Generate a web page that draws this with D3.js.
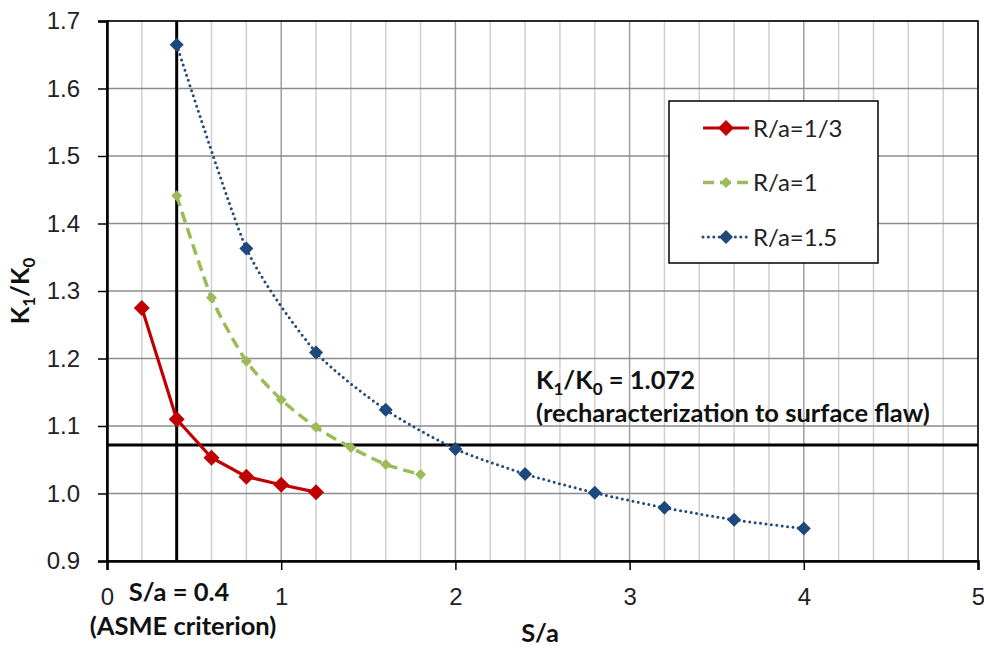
<!DOCTYPE html>
<html>
<head>
<meta charset="utf-8">
<script src="https://cdn.jsdelivr.net/npm/d3@7"></script>
<style>
  body { margin: 0; background: #fff; }
  svg { font-family: Lato, "Open Sans", sans-serif; }
</style>
</head>
<body>
<div id="svgContainer"></div>
<script>
// series data
const xRedThird = [0.2, 0.4, 0.6, 0.8, 1.0, 1.2];
const yRedThird = [1.275, 1.11, 1.053, 1.025, 1.013, 1.002];

const xGreenOne = [0.4, 0.6, 0.8, 1.0, 1.2, 1.4, 1.6, 1.8];
const yGreenOne = [1.441, 1.29, 1.196, 1.139, 1.098, 1.068, 1.043, 1.028];

const xBlueOneHalf = [0.4, 0.8, 1.2, 1.6, 2.0, 2.4, 2.8, 3.2, 3.6, 4.0];
const yBlueOneHalf = [1.665, 1.363, 1.209, 1.124, 1.066, 1.029, 1.001, 0.979, 0.961, 0.948];

const seriesNames = ["R/a=1/3", "R/a=1", "R/a=1.5"];
const xTicks = [0, 1, 2, 3, 4, 5];
const yTicks = [0.9, 1.0, 1.1, 1.2, 1.3, 1.4, 1.5, 1.6, 1.7];
const asmeS = 0.4;
const recharK = 1.072;

const width = 984;
const height = 649;
const margin = { top: 21, right: 6, bottom: 88, left: 107 };

const svg = d3
  .select("#svgContainer")
  .append("svg")
  .attr("width", width)
  .attr("height", height);

const x = d3.scaleLinear().domain([0, 5]).range([margin.left, width - margin.right]);
const y = d3.scaleLinear().domain([0.9, 1.7]).range([height - margin.bottom, margin.top]);

// minor vertical grid every 0.2
const minorX = d3.range(0, 5.001, 0.2).map((v) => +v.toFixed(1));
svg
  .append("g")
  .selectAll("line")
  .data(minorX)
  .enter()
  .append("line")
  .attr("x1", (d) => x(d))
  .attr("x2", (d) => x(d))
  .attr("y1", y(0.9))
  .attr("y2", y(1.7))
  .attr("stroke", (d) => (Number.isInteger(d) ? "#a0a0a0" : "#cfcfcf"))
  .attr("stroke-width", 1.5);

// horizontal grid
svg
  .append("g")
  .selectAll("line")
  .data(yTicks)
  .enter()
  .append("line")
  .attr("x1", x(0))
  .attr("x2", x(5))
  .attr("y1", (d) => y(d))
  .attr("y2", (d) => y(d))
  .attr("stroke", "#8c8c8c")
  .attr("stroke-width", 1.5);

// frame
svg
  .append("rect")
  .attr("x", x(0))
  .attr("y", y(1.7))
  .attr("width", x(5) - x(0))
  .attr("height", y(0.9) - y(1.7))
  .attr("fill", "none")
  .attr("stroke", "#000")
  .attr("stroke-width", 1.5);

// axes
const xAxis = svg
  .append("g")
  .attr("transform", `translate(0,${y(0.9)})`)
  .call(d3.axisBottom(x).tickValues(xTicks).tickSize(9).tickFormat(d3.format("d")));
xAxis.select(".domain").attr("stroke-width", 2.5);
xAxis.selectAll(".tick line").attr("stroke-width", 1.5);
xAxis
  .selectAll("text")
  .attr("y", 22)
  .attr("dy", "0.9em")
  .style("font-size", "24px")
  .attr("fill", "#222");

const yAxis = svg
  .append("g")
  .attr("transform", `translate(${x(0)},0)`)
  .call(d3.axisLeft(y).tickValues(yTicks).tickSize(9).tickFormat(d3.format(".1f")));
yAxis.select(".domain").attr("stroke-width", 2.5);
yAxis.selectAll(".tick line").attr("stroke-width", 1.5);
yAxis
  .selectAll("text")
  .attr("x", -27)
  .style("font-size", "24px")
  .attr("fill", "#222");

// reference lines
svg
  .append("line")
  .attr("x1", x(asmeS))
  .attr("x2", x(asmeS))
  .attr("y1", y(0.9))
  .attr("y2", y(1.7))
  .attr("stroke", "#000")
  .attr("stroke-width", 3);

svg
  .append("line")
  .attr("x1", x(0))
  .attr("x2", x(5))
  .attr("y1", y(recharK))
  .attr("y2", y(recharK))
  .attr("stroke", "#000")
  .attr("stroke-width", 3);

// series
const series = [
  { name: seriesNames[0], xs: xRedThird, ys: yRedThird, color: "#c00000", width: 3.2, dash: null, cap: "butt", marker: 8 },
  { name: seriesNames[1], xs: xGreenOne, ys: yGreenOne, color: "#9bbb59", width: 3.5, dash: "11 6", cap: "butt", marker: 5.5 },
  { name: seriesNames[2], xs: xBlueOneHalf, ys: yBlueOneHalf, color: "#1f497d", width: 3, dash: "0 5.4", cap: "round", marker: 7 },
];

const line = d3
  .line()
  .x((d) => x(d[0]))
  .y((d) => y(d[1]))
  .curve(d3.curveCardinal.tension(0.35));

const diamond = (r) => `M0,${-r}L${r},0L0,${r}L${-r},0Z`;

series.forEach((s) => {
  const pts = s.xs.map((v, i) => [v, s.ys[i]]);
  const isRed = s.name === seriesNames[0];
  svg
    .append("path")
    .datum(pts)
    .attr("d", isRed ? d3.line().x((d) => x(d[0])).y((d) => y(d[1]))(pts) : line(pts))
    .attr("fill", "none")
    .attr("stroke", s.color)
    .attr("stroke-width", s.width)
    .attr("stroke-dasharray", s.dash)
    .attr("stroke-linecap", s.cap);

  svg
    .append("g")
    .selectAll("path")
    .data(pts)
    .enter()
    .append("path")
    .attr("transform", (d) => `translate(${x(d[0])},${y(d[1])})`)
    .attr("d", diamond(s.marker))
    .attr("fill", s.color);
});

// legend
const legend = svg.append("g").attr("transform", "translate(669,101)");
legend
  .append("rect")
  .attr("width", 209)
  .attr("height", 162)
  .attr("fill", "#fff")
  .attr("stroke", "#000")
  .attr("stroke-width", 1.5);

series.forEach((s, i) => {
  const ly = 27 + i * 54.5;
  legend
    .append("line")
    .attr("x1", 34)
    .attr("x2", 80)
    .attr("y1", ly)
    .attr("y2", ly)
    .attr("stroke", s.color)
    .attr("stroke-width", s.width)
    .attr("stroke-dasharray", s.dash)
    .attr("stroke-linecap", s.cap);
  legend
    .append("path")
    .attr("transform", `translate(57,${ly})`)
    .attr("d", diamond(s.marker))
    .attr("fill", s.color);
  legend
    .append("text")
    .attr("x", 84)
    .attr("y", ly)
    .attr("dy", "0.36em")
    .style("font-size", "24px")
    .attr("fill", "#222")
    .text(s.name);
});

// annotations
const bold = (sel) => sel.style("font-weight", "bold").style("font-size", "25.5px").attr("fill", "#111");

bold(svg.append("text").attr("x", 179).attr("y", 601).attr("text-anchor", "middle").text("S/a = 0.4"));
bold(svg.append("text").attr("x", 183).attr("y", 635).attr("text-anchor", "middle").text("(ASME criterion)"));

const kLabel = bold(svg.append("text").attr("x", 536).attr("y", 389));
kLabel.append("tspan").text("K");
kLabel.append("tspan").attr("dy", 6).style("font-size", "17px").text("1");
kLabel.append("tspan").attr("dy", -6).text("/K");
kLabel.append("tspan").attr("dy", 6).style("font-size", "17px").text("0");
kLabel.append("tspan").attr("dy", -6).text(" = 1.072");

bold(svg.append("text").attr("x", 536).attr("y", 422).text("(recharacterization to surface flaw)"));

// axis titles
bold(svg.append("text").attr("x", 540).attr("y", 642).attr("text-anchor", "middle").text("S/a"));

const yTitle = bold(
  svg
    .append("text")
    .attr("transform", `translate(29,${y(1.3)}) rotate(-90)`)
    .attr("text-anchor", "middle")
);
yTitle.append("tspan").text("K");
yTitle.append("tspan").attr("dy", 6).style("font-size", "17px").text("1");
yTitle.append("tspan").attr("dy", -6).text("/K");
yTitle.append("tspan").attr("dy", 6).style("font-size", "17px").text("0");
</script>
</body>
</html>
